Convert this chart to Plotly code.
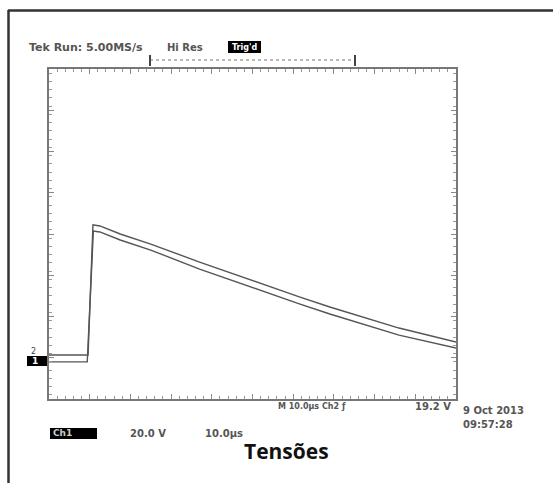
import plotly.graph_objects as go

# Time in microseconds (10 µs/div, 10 divisions), voltage in volts (20 V/div)
t_ch2 = [0, 9.6, 10.8, 12.5, 17.5, 25, 37, 49.5, 61.5, 69, 86, 100]
v_ch2 = [3.3, 3.3, 66.4, 65.9, 62.0, 57.1, 48.4, 39.7, 31.5, 26.6, 16.4, 9.6]
t_ch1 = [0, 9.4, 10.9, 12.5, 17.5, 25, 37, 49.5, 61.5, 69, 86, 100]
v_ch1 = [0, 0, 63.4, 63.0, 59.1, 54.2, 45.0, 36.3, 28.1, 23.2, 13.0, 6.7]

x_range = [0, 100]
y_range = [-18, 142]

header_texts = ["Tek Run: 5.00MS/s", "Hi Res", "Trig'd"]
footer_texts = ["M 10.0µs", "Ch2 ƒ", "19.2 V", "9 Oct 2013", "09:57:28", "Ch1", "20.0 V", "10.0µs"]
title_text = "Tensões"

W, H = 553, 483
L, R, T, B = 49, 456, 69, 399


def px(x):
    return (x - L) / (R - L)


def py(y):
    return (B - y) / (B - T)


fig = go.Figure()
fig.add_trace(go.Scatter(x=t_ch2, y=v_ch2, mode="lines",
                         line=dict(color="#555", width=1.4), hoverinfo="skip"))
fig.add_trace(go.Scatter(x=t_ch1, y=v_ch1, mode="lines",
                         line=dict(color="#555", width=1.4), hoverinfo="skip"))

bold_font = dict(family="DejaVu Sans", size=10, color="#555", weight="bold")
head_font = dict(family="DejaVu Sans", size=11, color="#555", weight="bold")
small_font = dict(family="DejaVu Sans", size=8, color="#555", weight="bold")

ann = []


def add_text(text, x, y, anchor="left", font=None, yanchor="middle"):
    ann.append(dict(text=text, x=px(x), y=py(y), xref="paper", yref="paper",
                    xanchor=anchor, yanchor=yanchor, showarrow=False,
                    font=font or bold_font))


add_text(header_texts[0], 27, 47, font=head_font)
add_text(header_texts[1], 165, 47)
add_text(header_texts[2], 244, 47, anchor="center",
         font=dict(family="DejaVu Sans", size=8, color="white", weight="bold"))
add_text(footer_texts[0], 276, 406, font=small_font)
add_text(footer_texts[1], 320, 406, font=small_font)
add_text(footer_texts[2], 453, 406, anchor="right", font=bold_font)
add_text(footer_texts[3], 461, 410)
add_text(footer_texts[4], 461, 424)
add_text(footer_texts[5], 51, 433, font=dict(family="DejaVu Sans", size=9, color="#ccc", weight="bold"))
add_text(footer_texts[6], 128, 433)
add_text(footer_texts[7], 203, 433)
add_text("2", 29, 351, font=dict(family="DejaVu Sans", size=8, color="#444"))
add_text("1", 30, 361, font=dict(family="DejaVu Sans", size=9, color="white", weight="bold"))
add_text(title_text, 286, 451, anchor="center",
         font=dict(family="Open Sans", size=21, color="#111", weight="bold"))

shapes = []


def rect(x0, y0, x1, y1, color="black"):
    shapes.append(dict(type="rect", xref="paper", yref="paper",
                       x0=px(x0), x1=px(x1), y0=py(y0), y1=py(y1),
                       fillcolor=color, line=dict(width=0), layer="below"))


def line(x0, y0, x1, y1, color="#333", width=2, dash="solid"):
    shapes.append(dict(type="line", xref="paper", yref="paper",
                       x0=px(x0), x1=px(x1), y0=py(y0), y1=py(y1),
                       line=dict(color=color, width=width, dash=dash)))


# outer frame
line(8.5, 10, 8.5, 483, width=2.5)
line(8, 10.5, 553, 10.5, width=2.5)
# black label boxes
rect(228, 41, 261, 53)
rect(50, 428, 97, 439)
rect(27, 356, 49, 366)
# trigger position bar
line(150, 60, 355, 60, color="#777", width=1, dash="dot")
line(150, 55, 150, 66, color="#444", width=2)
line(355, 55, 355, 66, color="#444", width=2)

axis_common = dict(showgrid=False, zeroline=False, showline=True, linecolor="#777",
                   linewidth=1.5, mirror="ticks", ticks="inside", ticklen=5,
                   tickcolor="#888", tickwidth=1, showticklabels=False,
                   minor=dict(ticks="inside", ticklen=3, tickcolor="#999", tickwidth=1))

fig.update_layout(
    width=W, height=H,
    margin=dict(l=L, r=W - R, t=T, b=H - B),
    paper_bgcolor="white", plot_bgcolor="white",
    showlegend=False,
    xaxis=dict(range=x_range, dtick=10, minor_dtick=2, **axis_common),
    yaxis=dict(range=y_range, tick0=-18, dtick=20, minor_dtick=4, **axis_common),
    annotations=ann, shapes=shapes,
)

fig.write_html("out.html")
